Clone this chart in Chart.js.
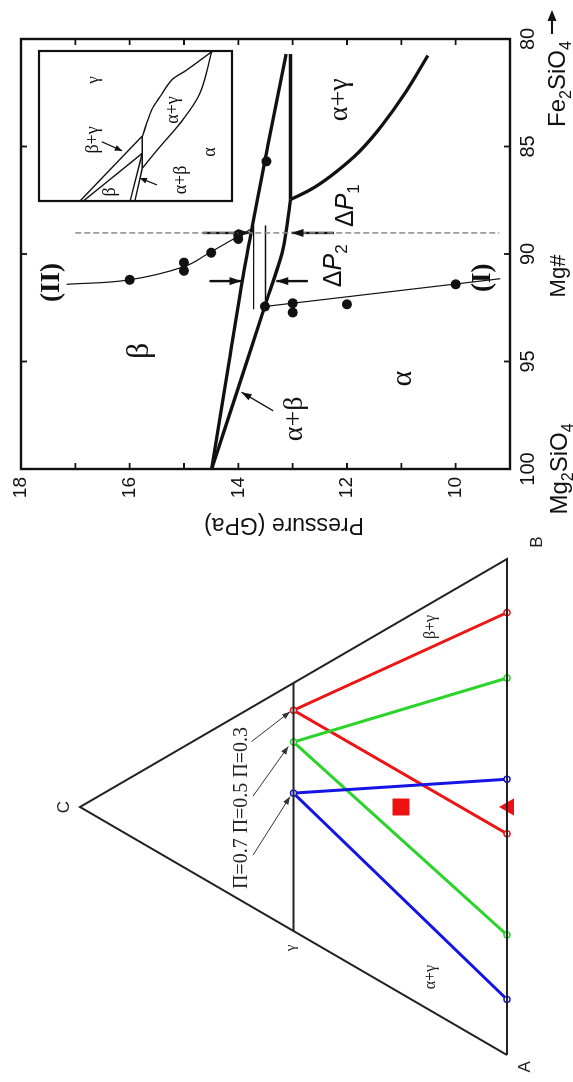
<!DOCTYPE html>
<html>
<head>
<meta charset="utf-8">
<script src="https://cdn.jsdelivr.net/npm/chart.js@4.4.0/dist/chart.umd.min.js"></script>
<style>
  html, body { margin: 0; padding: 0; background: #fff; width: 573px; height: 1082px; overflow: hidden; }
  /* the figure is laid out lying on its side, then turned a quarter turn */
  #fig { position: absolute; left: 0; top: 0; width: 1082px; height: 573px;
         transform-origin: 0 0; transform: translate(0, 1082px) rotate(-90deg); }
  canvas { position: absolute; }
</style>
</head>
<body>
<div id="fig">
  <canvas id="tri" width="573" height="573" style="left:0;top:0"></canvas>
  <canvas id="phase" width="541" height="573" style="left:541px;top:0"></canvas>
  <canvas id="inset" width="160" height="203" style="left:876px;top:34px"></canvas>
</div>
<script>
// ---------- ternary diagram (A-B-C, base = 0..1, apex height 0.866) ----------
const triOutlineX = [0, 1, 0.5, 0];
const triOutlineY = [0, 0, 0.866, 0];
const gammaLineX = [0.25, 0.75];
const gammaLineY = [0.433, 0.433];
const tieBlueX = [0.112, 0.528, 0.556];
const tieBlueY = [0, 0.433, 0];
const tieGreenX = [0.242, 0.631, 0.760];
const tieGreenY = [0, 0.433, 0];
const tieRedX = [0.446, 0.695, 0.892];
const tieRedY = [0, 0.433, 0];
const bulkSquareX = [0.5], bulkSquareY = [0.215];
const bulkTriX = [0.5], bulkTriY = [-0.004];
const piArrowTailX = [0.403, 0.522, 0.632];
const piArrowTailY = [0.515, 0.515, 0.518];
const piArrowHeadX = [0.521, 0.622, 0.692];
const piArrowHeadY = [0.440, 0.4435, 0.440];
const triLabelText = ['A', 'B', 'C', 'γ', 'α+γ', 'β+γ', 'Π=0.7 Π=0.5 Π=0.3'];
const triLabelX = [-0.024, 1.034, 0.5, 0.216, 0.157, 0.863, 0.498];
const triLabelY = [-0.037, -0.061, 0.898, 0.437, 0.154, 0.154, 0.538];

// ---------- phase diagram: Mg# vs pressure (GPa) ----------
const mgTicks = [80, 85, 90, 95, 100];
const pressureTicks = [10, 12, 14, 16, 18];
const betaBoundMg = [100, 95, 90, 85, 80.7];
const betaBoundP = [14.49, 14.17, 13.84, 13.46, 13.12];
const alphaBoundMg = [100, 96.6, 92.4, 89.8, 87.47];
const alphaBoundP = [14.49, 14.05, 13.51, 13.18, 13.04];
const flatBoundMg = [87.47, 80.7];
const flatBoundP = [13.04, 13.04];
const alphaGammaMg = [87.47, 86.93, 86.18, 85.23, 84.0, 82.51, 80.77];
const alphaGammaP = [13.04, 12.62, 12.20, 11.77, 11.35, 10.93, 10.51];
const curveIIMg = [91.41, 91.21, 90.59, 89.94, 89.2, 88.86];
const curveIIP = [17.16, 16.03, 15.0, 14.53, 14.02, 13.78];
const curveIMg = [92.44, 91.15];
const curveIP = [13.51, 9.18];
const dotsIIMg = [91.2, 90.4, 90.78, 89.94, 89.1, 89.3];
const dotsIIP = [16.0, 15.0, 15.0, 14.5, 14.0, 14.0];
const dotsIMg = [92.44, 92.29, 92.72, 92.34, 91.41, 85.69];
const dotsIP = [13.51, 13.0, 13.0, 12.0, 10.0, 13.48];
const dashMg = [89.02, 89.02];
const dashP = [17.0, 9.2];
const dP1Mg = 89.02, dP1Upper = [14.65, 13.79], dP1Lower = [12.24, 13.02];
const dP2Mg = 91.26, dP2Upper = [14.53, 13.94], dP2Lower = [12.72, 13.30];
const barMg = [88.67, 92.57];
const barP = [13.72, 13.50];
const abArrowMg = [97.29, 96.43];
const abArrowP = [13.36, 13.94];
const phaseLabelText = ['β', 'α', 'α+β', 'α+γ', '(II)', '(I)'];
const phaseLabelMg = [94.5, 95.8, 97.67, 82.83, 91.33, 91.1];
const phaseLabelP = [15.81, 10.97, 12.96, 12.14, 17.43, 9.49];
const deltaLabelMg = [87.75, 90.55];
const deltaLabelP = [12.03, 12.26];

// ---------- inset (schematic, 0..1 both ways) ----------
const inL1X = [0, 0.433], inL1Y = [0.788, 0.465];
const inL2X = [0, 0.318], inL2Y = [0.770, 0.465];
const inL3X = [0, 0.318], inL3Y = [0.528, 0.465];
const inL4X = [0, 0.218], inL4Y = [0.503, 0.465];
const inTripleX = [0.218, 0.433], inTripleY = [0.465, 0.465];
const inUpperX = [0.433, 0.518, 0.607, 0.695, 0.807, 0.873, 0.995];
const inUpperY = [0.463, 0.442, 0.416, 0.373, 0.312, 0.235, 0.105];
const inLowerX = [0.218, 0.362, 0.518, 0.718, 0.995];
const inLowerY = [0.465, 0.373, 0.269, 0.166, 0.105];
const inLabelText = ['γ', 'β+γ', 'β', 'α+β', 'α+γ', 'α'];
const inLabelX = [0.807, 0.407, 0.06, 0.14, 0.607, 0.327];
const inLabelY = [0.715, 0.72, 0.632, 0.264, 0.306, 0.114];
const inArrowX = [[0.395, 0.335], [0.107, 0.153]];
const inArrowY = [[0.675, 0.57], [0.389, 0.477]];

const SANS = '"Liberation Sans", Arial, sans-serif';
const SERIF = '"Liberation Serif", "Times New Roman", serif';

const pts = (xs, ys) => xs.map((x, i) => ({ x: x, y: ys[i] }));

function arrowHead(ctx, x0, y0, x1, y1, len, half) {
    const a = Math.atan2(y1 - y0, x1 - x0);
    const c = Math.cos(a), s = Math.sin(a);
    ctx.beginPath();
    ctx.moveTo(x1, y1);
    ctx.lineTo(x1 - len * c + half * s, y1 - len * s - half * c);
    ctx.lineTo(x1 - len * c - half * s, y1 - len * s + half * c);
    ctx.closePath();
    ctx.fill();
}

// text with subscripts, parts = [[text, isSub, style], ...], y is the baseline
function drawParts(ctx, parts, x, y, size, family, align) {
    const fontOf = p => (p[2] ? p[2] + ' ' : '') + Math.round(p[1] ? size * 0.66 : size) + 'px ' + family;
    let w = 0;
    parts.forEach(p => { ctx.font = fontOf(p); w += ctx.measureText(p[0]).width; });
    let cx = align === 'center' ? x - w / 2 : align === 'right' ? x - w : x;
    ctx.textAlign = 'left';
    ctx.textBaseline = 'alphabetic';
    parts.forEach(p => {
        ctx.font = fontOf(p);
        ctx.fillText(p[0], cx, y + (p[1] ? size * 0.24 : 0));
        cx += ctx.measureText(p[0]).width;
    });
}

// draws an arrowhead at the end of every dataset flagged with arrow
const arrowPlugin = {
    id: 'arrows',
    afterDatasetsDraw(chart) {
        const ctx = chart.ctx;
        ctx.save();
        chart.data.datasets.forEach((ds, i) => {
            if (!ds.arrow) return;
            const el = chart.getDatasetMeta(i).data;
            const p0 = el[el.length - 2], p1 = el[el.length - 1];
            ctx.fillStyle = ds.borderColor;
            arrowHead(ctx, p0.x, p0.y, p1.x, p1.y, ds.arrow[0], ds.arrow[1]);
        });
        ctx.restore();
    }
};

function lineSet(data, color, width, extra) {
    return Object.assign({
        data: data, showLine: true, borderColor: color, borderWidth: width,
        pointRadius: 0, fill: false, clip: false, tension: 0
    }, extra || {});
}

function baseOptions(xs, ys, padding) {
    return {
        responsive: false, animation: false, devicePixelRatio: 1, events: [],
        layout: { padding: padding },
        plugins: { legend: { display: false }, tooltip: { enabled: false } },
        scales: { x: xs, y: ys }
    };
}

// ---------------- ternary chart ----------------
const triFonts = ['17px ' + SANS, '17px ' + SANS, '17px ' + SANS, '15px ' + SERIF,
                  '16px ' + SERIF, '16px ' + SERIF, '20px ' + SERIF];
const tieDot = c => ({ pointRadius: 3, pointBackgroundColor: '#fff', pointBorderColor: c, pointBorderWidth: 1.4 });

const triDatasets = [
    lineSet(pts(triOutlineX, triOutlineY), '#222', 2),
    lineSet(pts(gammaLineX, gammaLineY), '#222', 2),
    lineSet(pts(tieBlueX, tieBlueY), '#1414e6', 3, tieDot('#1414e6')),
    lineSet(pts(tieGreenX, tieGreenY), '#2ad42a', 3, tieDot('#2ad42a')),
    lineSet(pts(tieRedX, tieRedY), '#ee1515', 3, tieDot('#ee1515')),
    { data: pts(bulkSquareX, bulkSquareY), showLine: false, pointStyle: 'rect', pointRadius: 12,
      backgroundColor: '#ee1111', borderColor: '#ee1111', borderWidth: 0, clip: false },
    { data: pts(bulkTriX, bulkTriY), showLine: false, pointStyle: 'triangle', pointRadius: 10,
      backgroundColor: '#ee1111', borderColor: '#ee1111', borderWidth: 0, clip: false }
];
piArrowTailX.forEach((x, i) => {
    triDatasets.push(lineSet([{ x: x, y: piArrowTailY[i] }, { x: piArrowHeadX[i], y: piArrowHeadY[i] }],
        '#333', 1, { arrow: [8, 3] }));
});

new Chart(document.getElementById('tri'), {
    type: 'scatter',
    data: { datasets: triDatasets },
    options: baseOptions(
        { type: 'linear', min: 0, max: 1, display: false },
        { type: 'linear', min: 0, max: 0.866, display: false },
        { left: 27, right: 50, top: 80, bottom: 66 }),
    plugins: [arrowPlugin, {
        id: 'triText',
        afterDatasetsDraw(chart) {
            const { ctx, scales: { x, y } } = chart;
            ctx.save();
            ctx.fillStyle = '#222';
            ctx.textAlign = 'center';
            ctx.textBaseline = 'middle';
            triLabelText.forEach((t, i) => {
                ctx.font = triFonts[i];
                ctx.fillText(t, x.getPixelForValue(triLabelX[i]), y.getPixelForValue(triLabelY[i]));
            });
            ctx.restore();
        }
    }]
});

// ---------------- phase diagram ----------------
const phaseFonts = ['32px ' + SERIF, '30px ' + SERIF, '28px ' + SERIF, '28px ' + SERIF,
                    'bold 27px ' + SERIF, 'bold 27px ' + SERIF];
const black = '#111';

const phaseDatasets = [
    lineSet(pts(dashMg, dashP), '#8a8a8a', 1.5, { borderDash: [6, 3] }),
    lineSet(pts(barMg, [barP[0], barP[0]]), black, 1.3),
    lineSet(pts(barMg, [barP[1], barP[1]]), black, 1.3),
    lineSet(pts(betaBoundMg, betaBoundP), black, 3.3, { tension: 0.3 }),
    lineSet(pts(alphaBoundMg, alphaBoundP), black, 3.3, { tension: 0.3 }),
    lineSet(pts(flatBoundMg, flatBoundP), black, 3.3),
    lineSet(pts(alphaGammaMg, alphaGammaP), black, 3.3, { tension: 0.4 }),
    lineSet(pts(curveIIMg, curveIIP), black, 1.2, { tension: 0.4 }),
    lineSet(pts(curveIMg, curveIP), black, 1.2),
    lineSet(pts([dP1Mg, dP1Mg], dP1Upper), black, 2.4, { arrow: [12, 4] }),
    lineSet(pts([dP1Mg, dP1Mg], dP1Lower), black, 2.4, { arrow: [12, 4] }),
    lineSet(pts([dP2Mg, dP2Mg], dP2Upper), black, 2.4, { arrow: [12, 4] }),
    lineSet(pts([dP2Mg, dP2Mg], dP2Lower), black, 2.4, { arrow: [12, 4] }),
    lineSet(pts(abArrowMg, abArrowP), black, 1.3, { arrow: [10, 3.5] }),
    { data: pts(dotsIIMg, dotsIIP), showLine: false, pointRadius: 5, backgroundColor: black, borderWidth: 0 },
    { data: pts(dotsIMg, dotsIP), showLine: false, pointRadius: 5, backgroundColor: black, borderWidth: 0 }
];

const phaseOpts = baseOptions(
    {
        type: 'linear', min: 80, max: 100, reverse: true,
        afterFit: s => { s.height = 63; },
        afterBuildTicks: s => { s.ticks = mgTicks.map(v => ({ value: v })); },
        grid: { display: false, drawTicks: false }, border: { display: false },
        ticks: { padding: 6, color: black, font: { family: SANS, size: 20 }, maxRotation: 0 }
    },
    {
        type: 'linear', min: 9, max: 18,
        afterFit: s => { s.width = 72; },
        ticks: { stepSize: 1, padding: 8, color: black, font: { family: SANS, size: 19 },
                 callback: v => pressureTicks.includes(v) ? String(v) : '' },
        grid: { display: false, drawTicks: false }, border: { display: false }
    },
    { left: 0, right: 39, top: 21, bottom: 0 });

new Chart(document.getElementById('phase'), {
    type: 'scatter',
    data: { datasets: phaseDatasets },
    options: phaseOpts,
    plugins: [arrowPlugin, {
        id: 'frame',
        afterDraw(chart) {
            const { ctx, chartArea: a, scales: { x, y } } = chart;
            ctx.save();
            ctx.strokeStyle = black;
            ctx.lineWidth = 2.4;
            ctx.strokeRect(a.left, a.top, a.right - a.left, a.bottom - a.top);
            // ticks point inwards on all four sides
            ctx.lineWidth = 1.8;
            ctx.beginPath();
            y.ticks.forEach(t => {
                const py = y.getPixelForValue(t.value);
                ctx.moveTo(a.left, py); ctx.lineTo(a.left + 6, py);
                ctx.moveTo(a.right, py); ctx.lineTo(a.right - 6, py);
            });
            x.ticks.forEach(t => {
                const px = x.getPixelForValue(t.value);
                ctx.moveTo(px, a.bottom); ctx.lineTo(px, a.bottom - 6);
                ctx.moveTo(px, a.top); ctx.lineTo(px, a.top + 6);
            });
            ctx.stroke();

            ctx.fillStyle = black;
            ctx.textAlign = 'center';
            ctx.textBaseline = 'middle';
            phaseLabelText.forEach((t, i) => {
                ctx.font = phaseFonts[i];
                ctx.fillText(t, x.getPixelForValue(phaseLabelMg[i]), y.getPixelForValue(phaseLabelP[i]));
            });
            deltaLabelMg.forEach((m, i) => {
                drawParts(ctx, [['Δ', 0], ['P', 0, 'italic'], [String(i + 1), 1]], x.getPixelForValue(m),
                          y.getPixelForValue(deltaLabelP[i]) + 8, 25, SANS, 'center');
            });

            // axis titles and end members
            ctx.font = '23px ' + SANS;
            ctx.textAlign = 'center';
            ctx.textBaseline = 'middle';
            ctx.save();
            ctx.translate(17, 284);
            ctx.rotate(-Math.PI / 2);
            ctx.fillText('Pressure (GPa)', 0, 0);
            ctx.restore();
            ctx.font = '22px ' + SANS;
            ctx.fillText('Mg#', 265, 559);
            drawParts(ctx, [['Mg', 0], ['2', 1], ['SiO', 0], ['4', 1]], x.getPixelForValue(100), 567, 24, SANS, 'center');
            drawParts(ctx, [['Fe', 0], ['2', 1], ['SiO', 0], ['4', 1]], 457, 565, 24, SANS, 'center');
            ctx.lineWidth = 2;
            ctx.beginPath();
            ctx.moveTo(507, 552); ctx.lineTo(522, 552);
            ctx.stroke();
            arrowHead(ctx, 507, 552, 531, 552, 11, 4.5);
            ctx.restore();
        }
    }]
});

// ---------------- inset ----------------
const inFonts = ['17px ' + SERIF, '18px ' + SERIF, '18px ' + SERIF, '18px ' + SERIF,
                 '18px ' + SERIF, '18px ' + SERIF];
const inDatasets = [
    lineSet(pts(inL1X, inL1Y), black, 1.4),
    lineSet(pts(inL2X, inL2Y), black, 1.4),
    lineSet(pts(inL3X, inL3Y), black, 1.4),
    lineSet(pts(inL4X, inL4Y), black, 1.4),
    lineSet(pts(inTripleX, inTripleY), black, 1.4),
    lineSet(pts(inUpperX, inUpperY), black, 1.4, { tension: 0.35 }),
    lineSet(pts(inLowerX, inLowerY), black, 1.4, { tension: 0.35 })
];
inArrowX.forEach((xs, i) => inDatasets.push(lineSet(pts(xs, inArrowY[i]), black, 1.2, { arrow: [7, 3] })));

new Chart(document.getElementById('inset'), {
    type: 'scatter',
    data: { datasets: inDatasets },
    options: baseOptions(
        { type: 'linear', min: 0, max: 1, display: false },
        { type: 'linear', min: 0, max: 1, display: false },
        { left: 5, right: 5, top: 5, bottom: 5 }),
    plugins: [arrowPlugin, {
        id: 'insetBox',
        afterDraw(chart) {
            const { ctx, chartArea: a, scales: { x, y } } = chart;
            ctx.save();
            ctx.strokeStyle = black;
            ctx.lineWidth = 2.2;
            ctx.strokeRect(a.left, a.top, a.right - a.left, a.bottom - a.top);
            ctx.fillStyle = black;
            ctx.textAlign = 'center';
            ctx.textBaseline = 'middle';
            inLabelText.forEach((t, i) => {
                ctx.font = inFonts[i];
                ctx.fillText(t, x.getPixelForValue(inLabelX[i]), y.getPixelForValue(inLabelY[i]));
            });
            ctx.restore();
        }
    }]
});
</script>
</body>
</html>
